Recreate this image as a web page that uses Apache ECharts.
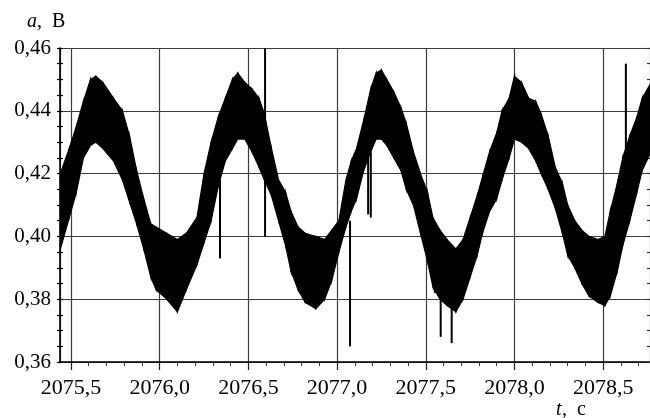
<!DOCTYPE html>
<html>
<head>
<meta charset="utf-8">
<title>a(t)</title>
<script src="https://cdn.jsdelivr.net/npm/echarts@6/dist/echarts.min.js"></script>
<style>
  html, body { margin: 0; padding: 0; background: #fff; }
  #main { width: 650px; height: 418px; }
</style>
</head>
<body>
<div id="main"></div>
<script type="text/javascript">
// time samples, s  (upper / lower edge of the noisy band, V)
var times = [2075.44, 2075.49, 2075.53, 2075.57, 2075.61, 2075.64, 2075.68, 2075.74, 2075.79, 2075.83,
  2075.87, 2075.91, 2075.95, 2075.98, 2076.04, 2076.10, 2076.15, 2076.21, 2076.25, 2076.29,
  2076.33, 2076.37, 2076.41, 2076.44, 2076.48, 2076.52, 2076.56, 2076.59, 2076.63, 2076.67,
  2076.71, 2076.74, 2076.78, 2076.82, 2076.88, 2076.93, 2076.97, 2077.01, 2077.05, 2077.08,
  2077.11, 2077.15, 2077.19, 2077.22, 2077.25, 2077.28, 2077.32, 2077.36, 2077.39, 2077.43,
  2077.47, 2077.51, 2077.54, 2077.58, 2077.62, 2077.67, 2077.71, 2077.75, 2077.79, 2077.82,
  2077.86, 2077.90, 2077.93, 2077.97, 2078.00, 2078.04, 2078.08, 2078.12, 2078.15, 2078.19,
  2078.23, 2078.27, 2078.30, 2078.34, 2078.38, 2078.42, 2078.47, 2078.51, 2078.54, 2078.58,
  2078.61, 2078.65, 2078.69, 2078.72, 2078.77];
var upper = [0.420, 0.428, 0.435, 0.443, 0.450, 0.451, 0.449, 0.444, 0.440, 0.432,
  0.421, 0.412, 0.404, 0.403, 0.401, 0.399, 0.401, 0.406, 0.420, 0.430,
  0.438, 0.444, 0.450, 0.452, 0.449, 0.447, 0.444, 0.439, 0.428, 0.418,
  0.414, 0.408, 0.403, 0.401, 0.400, 0.399, 0.402, 0.405, 0.418, 0.424,
  0.428, 0.437, 0.447, 0.452, 0.453, 0.450, 0.446, 0.441, 0.436, 0.427,
  0.420, 0.414, 0.406, 0.402, 0.399, 0.396, 0.399, 0.406, 0.413, 0.419,
  0.427, 0.433, 0.440, 0.444, 0.451, 0.449, 0.444, 0.443, 0.439, 0.432,
  0.422, 0.417, 0.410, 0.405, 0.402, 0.400, 0.399, 0.400, 0.408, 0.417,
  0.425, 0.432, 0.438, 0.444, 0.449];
var lower = [0.396, 0.406, 0.414, 0.425, 0.429, 0.430, 0.428, 0.424, 0.418, 0.411,
  0.404, 0.396, 0.387, 0.383, 0.380, 0.376, 0.383, 0.391, 0.398, 0.405,
  0.416, 0.424, 0.428, 0.431, 0.431, 0.427, 0.422, 0.418, 0.413, 0.405,
  0.397, 0.389, 0.383, 0.379, 0.377, 0.380, 0.386, 0.395, 0.403, 0.408,
  0.412, 0.421, 0.427, 0.431, 0.431, 0.429, 0.425, 0.421, 0.415, 0.410,
  0.401, 0.392, 0.384, 0.380, 0.378, 0.376, 0.380, 0.387, 0.394, 0.401,
  0.408, 0.412, 0.418, 0.425, 0.431, 0.430, 0.428, 0.424, 0.420, 0.415,
  0.409, 0.401, 0.394, 0.390, 0.385, 0.381, 0.379, 0.378, 0.381, 0.389,
  0.397, 0.405, 0.414, 0.421, 0.427];

// single spikes (outliers)
var spikeT  = [2076.34, 2076.594, 2077.073, 2077.175, 2077.19, 2077.552, 2077.584, 2077.646, 2078.628];
var spikeLo = [0.393, 0.400, 0.365, 0.407, 0.406, 0.382, 0.368, 0.366, 0.420];
var spikeHi = [0.418, 0.460, 0.405, 0.425, 0.427, 0.392, 0.385, 0.380, 0.455];

var xMin = 2075.438, xMax = 2078.764;
var yMin = 0.36, yMax = 0.46, yStep = 0.02;

// minor x ticks every 0.1 s
var xMinorTicks = [];
for (var k = 2075.5; k < xMax; k += 0.1) {
    var r = Math.round(k * 10) / 10;
    if (Math.abs(r * 2 - Math.round(r * 2)) > 1e-6) xMinorTicks.push(r);
}

var FONT = 'Liberation Serif';
var gridColor = '#3c3c3c';

var bandData = times.map(function (t, i) { return [t, upper[i], lower[i]]; });
var spikeData = spikeT.map(function (t, i) { return [t, spikeLo[i], spikeHi[i]]; });

var myChart = echarts.init(document.getElementById('main'));

var option = {
    animation: false,
    backgroundColor: '#fff',
    grid: { left: 60, right: 0, top: 48, bottom: 56 },
    xAxis: [
        {
            type: 'value', min: xMin, max: xMax, splitNumber: 7,
            axisLine: { show: true, lineStyle: { color: '#000', width: 1.6 } },
            axisTick: { show: true, length: 8, lineStyle: { color: '#222', width: 1.2 } },
            axisLabel: {
                showMinLabel: false, showMaxLabel: false,
                margin: 15, color: '#000', fontFamily: FONT, fontSize: 22,
                formatter: function (v) { return v.toFixed(1).replace('.', ','); }
            },
            splitLine: { show: true, lineStyle: { color: gridColor, width: 1.2 } }
        },
        {
            type: 'value', min: xMin, max: xMax, position: 'bottom',
            axisLine: { show: false },
            axisTick: { show: true, length: 4, customValues: xMinorTicks, lineStyle: { color: '#333', width: 1 } },
            axisLabel: { show: false },
            splitLine: { show: false }
        }
    ],
    yAxis: [
        {
            type: 'value', min: yMin, max: yMax, interval: yStep,
            axisLine: { show: true, lineStyle: { color: '#000', width: 1.6 } },
            axisTick: { show: true, length: 3, lineStyle: { color: '#000', width: 1.2 } },
            minorTick: { show: true, splitNumber: 4, length: 3, lineStyle: { color: '#000', width: 1.2 } },
            axisLabel: {
                margin: 9, color: '#000', fontFamily: FONT, fontSize: 21,
                formatter: function (v) { return v.toFixed(2).replace('.', ','); }
            },
            splitLine: { show: true, lineStyle: { color: gridColor, width: 1.2 } }
        },
        {
            type: 'value', min: yMin, max: yMax, interval: yStep, position: 'left',
            axisLine: { show: false },
            axisTick: { show: true, inside: true, length: 3, lineStyle: { color: '#000', width: 1.2 } },
            minorTick: { show: true, splitNumber: 4, length: 3, lineStyle: { color: '#000', width: 1.2 } },
            axisLabel: { show: false },
            splitLine: { show: false }
        },
        {
            type: 'value', min: yMin, max: yMax, interval: yStep, position: 'right',
            axisLine: { show: false },
            axisTick: { show: true, inside: true, length: 3, lineStyle: { color: '#333', width: 1.2 } },
            minorTick: { show: true, splitNumber: 4, length: 3, lineStyle: { color: '#333', width: 1.2 } },
            axisLabel: { show: false },
            splitLine: { show: false }
        }
    ],
    graphic: [
        { type: 'text', left: 27, top: 12, style: { text: 'a', font: 'italic 20px "Liberation Serif"', fill: '#000' } },
        { type: 'text', left: 37, top: 12, style: { text: ',  В', font: '20px "Liberation Serif"', fill: '#000' } },
        { type: 'text', left: 556, top: 400, style: { text: 't', font: 'italic 20px "Liberation Serif"', fill: '#000' } },
        { type: 'text', left: 562, top: 400, style: { text: ',  с', font: '20px "Liberation Serif"', fill: '#000' } }
    ],
    series: [
        {
            // noisy band between upper and lower edges
            type: 'custom', name: 'band', clip: true,
            data: bandData,
            renderItem: function (params, api) {
                var i = params.dataIndex;
                if (i >= bandData.length - 1) return;
                var a = bandData[i], b = bandData[i + 1];
                var pts = [
                    api.coord([a[0], a[1]]), api.coord([b[0], b[1]]),
                    api.coord([b[0], b[2]]), api.coord([a[0], a[2]])
                ];
                return {
                    type: 'polygon',
                    shape: { points: pts },
                    style: { fill: '#000', stroke: '#000', lineWidth: 1.2 }
                };
            }
        },
        {
            type: 'custom', name: 'spikes', clip: true,
            data: spikeData,
            renderItem: function (params, api) {
                var p1 = api.coord([api.value(0), api.value(1)]);
                var p2 = api.coord([api.value(0), api.value(2)]);
                return {
                    type: 'line',
                    shape: { x1: p1[0], y1: p1[1], x2: p2[0], y2: p2[1] },
                    style: { stroke: '#000', lineWidth: 2 }
                };
            }
        }
    ]
};

myChart.setOption(option);
</script>
</body>
</html>
